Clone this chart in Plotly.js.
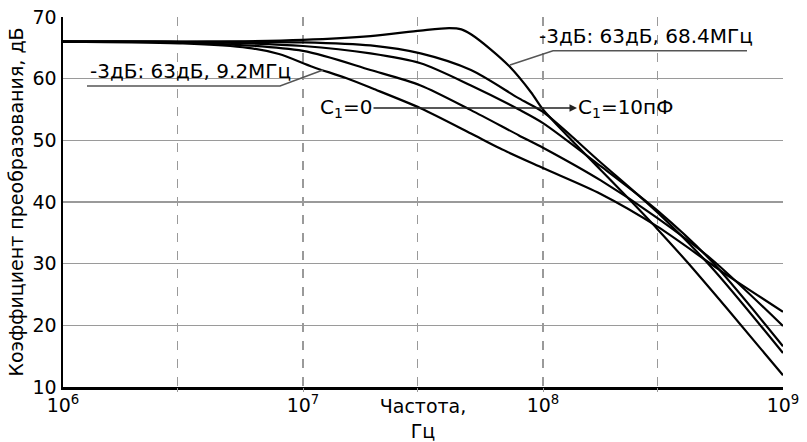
<!DOCTYPE html>
<html>
<head>
<meta charset="utf-8">
<script src="https://cdn.plot.ly/plotly-3.0.1.min.js"></script>
<style>html,body{margin:0;padding:0;background:#fff;}#chart{width:807px;height:442px;}</style>
</head>
<body>
<div id="chart"></div>
<script>
// Frequencies in MHz, gain in dB
const fA = [1, 4, 10, 19.1, 30.9, 40.7, 45.7, 50.1, 60.3, 72.4, 89.1, 100, 126, 174, 224, 300, 398, 582, 1000];
const gA = [66.0, 66.0, 66.3, 66.9, 67.8, 68.2, 68.0, 67.2, 64.8, 62.0, 57.8, 55.0, 50.8, 45.2, 40.8, 35.6, 30.3, 22.8, 11.9];

const fB = [1, 4, 10, 19.1, 30.9, 50.1, 79.4, 100, 174, 300, 501, 1000];
const gB = [66.0, 66.0, 65.9, 65.4, 64.1, 61.4, 56.8, 54.6, 46.4, 38.3, 29.5, 15.5];

const fC = [1, 4, 10, 19.1, 30.9, 50.1, 79.4, 100, 174, 300, 501, 1000];
const gC = [66.0, 65.9, 65.3, 64.1, 62.5, 58.9, 55.0, 52.8, 45.8, 38.6, 30.5, 16.6];

const fD = [1, 3.16, 10, 19.1, 30.9, 50.1, 79.4, 100, 174, 300, 501, 1000];
const gD = [66.0, 65.9, 64.5, 61.4, 58.9, 54.9, 50.8, 48.8, 43.5, 37.4, 30.8, 19.9];

const fE = [1, 3.16, 5.89, 7.94, 11, 15.1, 19.5, 30.9, 50.1, 66.1, 100, 174, 300, 562, 1000];
const gE = [66.0, 65.7, 65.0, 64.0, 61.9, 60.1, 58.4, 55.2, 51.1, 48.7, 45.5, 41.3, 36.0, 28.6, 22.2];

const xTickVals = [1e6, 1e7, 1e8, 1e9];
const xTickText = ['10<sup>6</sup>', '10<sup>7</sup>', '10<sup>8</sup>', '10<sup>9</sup>'];
const xGridVals = [3e6, 1e7, 3e7, 1e8, 3e8];
const yTickVals = [10, 20, 30, 40, 50, 60, 70];
const yGridVals = [20, 30, 40, 50, 60];

const MHz = 1e6;
const series = [[fA, gA], [fB, gB], [fC, gC], [fD, gD], [fE, gE]];
const traces = series.map(([f, g]) => ({
  x: f.map(v => v * MHz), y: g, type: 'scatter', mode: 'lines',
  line: {color: '#000', width: 2.2, shape: 'spline', smoothing: 0.8},
  hoverinfo: 'skip'
}));
traces.push({x: [], y: [], xaxis: 'x2', yaxis: 'y2', type: 'scatter', mode: 'lines', showlegend: false});

const FONT = 'DejaVu Sans, Arial, sans-serif';

const layout = {
  width: 807, height: 442,
  margin: {l: 63, r: 24, t: 17, b: 55},
  paper_bgcolor: '#fff', plot_bgcolor: '#fff',
  showlegend: false,
  font: {family: FONT, size: 19, color: '#000'},
  xaxis: {
    type: 'log', range: [6, 9], tickmode: 'array', tickvals: xTickVals, ticktext: xTickText,
    showgrid: false, zeroline: false, showline: true, linecolor: '#000', linewidth: 2.5,
    ticks: '', tickfont: {size: 19, family: FONT},
    title: {text: 'Частота,<br>Гц', standoff: 0, font: {size: 19, family: FONT}}
  },
  xaxis2: {
    type: 'log', range: [6, 9], overlaying: 'x', anchor: 'y', tickmode: 'array', tickvals: xGridVals,
    showticklabels: false, showgrid: true, gridcolor: '#9a9a9a', gridwidth: 1.2, griddash: 'dash',
    ticks: 'outside', ticklen: 4, tickcolor: '#9a9a9a', showline: false, zeroline: false
  },
  yaxis: {
    range: [10, 70], tickmode: 'array', tickvals: yTickVals,
    showgrid: false, zeroline: false, showline: true, linecolor: '#000', linewidth: 2.5,
    ticks: '', tickfont: {size: 19, family: FONT},
    title: {text: 'Коэффициент преобразования, дБ', standoff: 4, font: {size: 19, family: FONT}}
  },
  yaxis2: {
    range: [10, 70], overlaying: 'y', anchor: 'x', tickmode: 'array', tickvals: yGridVals,
    showticklabels: false, showgrid: true, gridcolor: '#9a9a9a', gridwidth: 1.5,
    ticks: '', showline: false, zeroline: false
  },
  shapes: [
    {type: 'path', xref: 'paper', yref: 'paper', path: 'M 0.0333 0.8135 L 0.3014 0.8135 L 0.3611 0.8568',
     line: {color: '#555', width: 1.5}},
    {type: 'path', xref: 'paper', yref: 'paper', path: 'M 0.95 0.9089 L 0.6806 0.9089 L 0.6208 0.8703',
     line: {color: '#555', width: 1.5}}
  ],
  annotations: [
    {xref: 'paper', yref: 'paper', x: 0.0347, y: 0.854, xanchor: 'left', yanchor: 'middle',
     text: '-3дБ: 63дБ, 9.2МГц', showarrow: false, font: {size: 20, family: FONT}},
    {xref: 'paper', yref: 'paper', x: 0.6583, y: 0.9486, xanchor: 'left', yanchor: 'middle',
     text: '-3дБ: 63дБ, 68.4МГц', showarrow: false, font: {size: 20, family: FONT}},
    {xref: 'paper', yref: 'paper', x: 0.7139, y: 0.754, ax: -231, ay: 0,
     text: 'C<sub>1</sub>=0', showarrow: true, arrowhead: 2, arrowsize: 1, arrowwidth: 1.5, arrowcolor: '#222',
     font: {size: 20, family: FONT}},
    {xref: 'paper', yref: 'paper', x: 0.7125, y: 0.754, xanchor: 'left', yanchor: 'middle',
     text: 'C<sub>1</sub>=10пФ', showarrow: false, font: {size: 20, family: FONT}}
  ]
};

Plotly.newPlot('chart', traces, layout, {staticPlot: true, displayModeBar: false});
</script>
</body>
</html>
